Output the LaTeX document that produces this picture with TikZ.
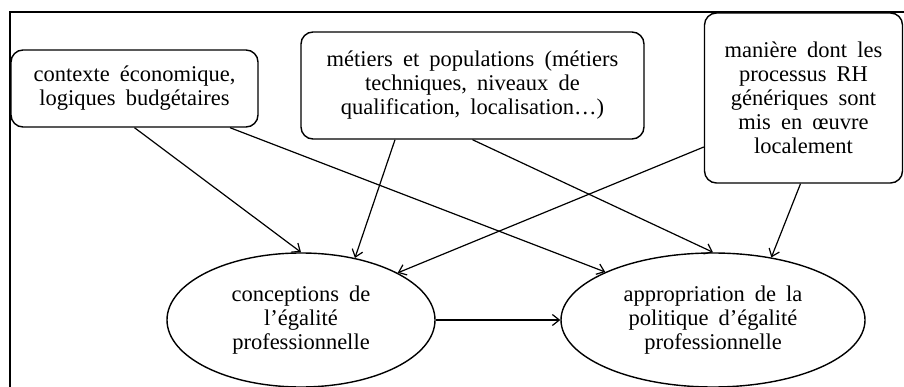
\documentclass[tikz,border=0pt]{standalone}
\usepackage{fontspec}
\setmainfont{Liberation Serif}
\usepackage{tikz}
\usetikzlibrary{arrows.meta,shapes,positioning,calc}

\newcommand{\boxfont}{\fontsize{22.5}{24}\selectfont\spaceskip=0.45em plus 0.1em\relax}

\tikzset{
    factor/.style={draw, line width=1.4pt, rounded corners=12pt, align=center,
        font=\boxfont, inner sep=2pt},
    effect/.style={draw, line width=1.4pt, ellipse, align=center,
        font=\boxfont, inner sep=0pt, minimum height=134pt},
    link/.style={->, line width=1.2pt},
    >={Straight Barb[length=7pt,width=11pt]}
}

\begin{document}
\begin{tikzpicture}[x=1pt, y=-1pt]
    \useasboundingbox (0,0) rectangle (904,387);

    % Frame
    \coordinate (frameTL) at (10,12);
    \coordinate (frameTR) at (904,12);
    \coordinate (frameBL) at (10,387);
    \draw[line width=2.2pt] (frameBL) -- (frameTL) -- (frameTR);

    % Context factors
    \node[factor, minimum width=247pt, minimum height=77pt] (ctx) at (134.5,88.5)
        {contexte \'economique,\\logiques budg\'etaires};
    \node[factor, minimum width=343pt, minimum height=107pt] (met) at (472.5,85.5)
        {m\'etiers et populations (m\'etiers\\techniques, niveaux de\\qualification, localisation\ldots)};
    \node[factor, minimum width=198pt, minimum height=170pt] (proc) at (803.5,98)
        {mani\`ere dont les\\processus RH\\g\'en\'eriques sont\\mis en {\oe}uvre\\localement};

    % Effects
    \node[effect, minimum width=268pt] (conc) at (301,320)
        {conceptions de\\l'\'egalit\'e\\professionnelle};
    \node[effect, minimum width=304pt] (appr) at (713,320)
        {appropriation de la\\politique d'\'egalit\'e\\professionnelle};

    % Start points on the boxes
    \coordinate (ctxR) at ([xshift=95.5pt]ctx.south);
    \coordinate (metL) at ([xshift=-77.5pt]met.south);
    \coordinate (procL) at ([yshift=-49pt]proc.west);
    \coordinate (procB) at ([xshift=-3pt]proc.south);

    % Influences
    \foreach \from/\to in {ctx.south/conc.north, ctxR/appr.156.5,
                           metL/conc.49.5, met.south/appr.north,
                           procL/conc.26.6, procB/appr.47.4} {
        \draw[link] (\from) -- (\to);
    }
    \draw[link] (conc.east) -- (appr.west);

\end{tikzpicture}
\end{document}
